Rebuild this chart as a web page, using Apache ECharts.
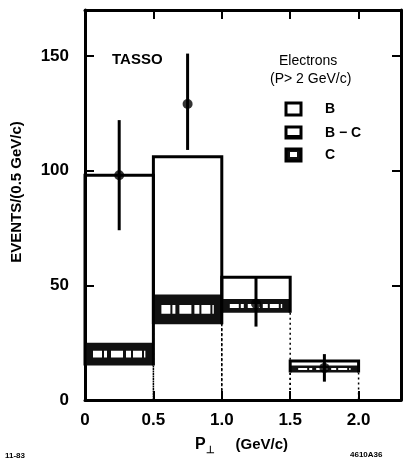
<!DOCTYPE html>
<html><head><meta charset="utf-8">
<script src="https://cdn.jsdelivr.net/npm/echarts@6/dist/echarts.min.js"></script>
<style>html,body{margin:0;padding:0;background:#fff}#c{width:405px;height:465px}</style>
</head><body><div id="c"></div>
<script>
// ---- data ----
const binLow  = [0, 0.5, 1.0, 1.5];
const binHigh = [0.5, 1.0, 1.5, 2.0];
const totalB  = [98, 106, 53.5, 17];   // B (open histogram)
const bcTop   = [25, 46, 44, 15];      // top of B - C band
const cTop    = [15, 33, 38, 12];      // C (bottom)
const ptX     = [0.25, 0.75, 1.25, 1.75];
const ptY     = [98, 129, 42, 14];
const errLo   = [74, 109, 32, 8];
const errHi   = [122, 151, 54, 20];
const xTicks  = ['0', '0.5', '1.0', '1.5', '2.0'];
const yTicks  = ['0', '50', '100', '150'];

const FONT = '"Liberation Sans", Arial, sans-serif';
const chart = echarts.init(document.getElementById('c'), null, {renderer: 'canvas'});

const histData = binLow.map((l, i) => [l, binHigh[i], cTop[i], bcTop[i], totalB[i]]);
const errData = ptX.map((x, i) => [x, errLo[i], errHi[i]]);
const ptData = ptX.map((x, i) => [x, ptY[i]]);

function xLab(v) {
  const i = Math.round(v / 0.5);
  return (Math.abs(v - i * 0.5) < 1e-6 && i < xTicks.length) ? xTicks[i] : '';
}
function yLab(v) {
  const i = Math.round(v / 50);
  return (Math.abs(v - i * 50) < 1e-6 && i < yTicks.length) ? yTicks[i] : '';
}

function axisCommon() {
  return {
    axisLine: {show: true, onZero: false, lineStyle: {color: '#000', width: 3}},
    axisTick: {show: true, inside: true, length: 9, lineStyle: {color: '#000', width: 2}},
    splitLine: {show: false}
  };
}

chart.setOption({
  animation: false,
  backgroundColor: '#fff',
  grid: {left: 85, right: 4, top: 10, bottom: 65, containLabel: false},
  xAxis: [
    Object.assign({type: 'value', min: 0, max: 2.31, interval: 0.5, position: 'bottom',
      axisLabel: {show: true, margin: 12, color: '#000', fontSize: 17, fontWeight: 'bold', fontFamily: FONT,
        formatter: xLab, showMaxLabel: false}}, axisCommon()),
    Object.assign({type: 'value', min: 0, max: 2.31, interval: 0.5, position: 'top',
      axisLabel: {show: false}}, axisCommon())
  ],
  yAxis: [
    Object.assign({type: 'value', min: 0, max: 170, interval: 50, position: 'left',
      axisLabel: {show: true, margin: 16, color: '#000', fontSize: 17, fontWeight: 'bold', fontFamily: FONT,
        formatter: yLab, showMaxLabel: false}}, axisCommon()),
    Object.assign({type: 'value', min: 0, max: 170, interval: 50, position: 'right',
      axisLabel: {show: false}}, axisCommon())
  ],
  series: [
    {
      type: 'custom',
      data: histData,
      encode: {x: [0, 1], y: [2, 3, 4]},
      renderItem: function (params, api) {
        const x0 = api.value(0), x1 = api.value(1), c = api.value(2), bc = api.value(3), t = api.value(4);
        const p = (x, y) => api.coord([x, y]);
        const bandTop = p(x0, bc), bandBot = p(x1, c);
        const h = bandBot[1] - bandTop[1];
        const midY = (bandTop[1] + bandBot[1]) / 2;
        const children = [
          {type: 'rect', shape: {x: bandTop[0], y: bandTop[1], width: bandBot[0] - bandTop[0], height: h},
            style: {fill: '#111'}},
          {type: 'line', shape: {x1: bandTop[0] + 8, y1: midY, x2: bandBot[0] - 8, y2: midY},
            style: {stroke: '#fff', lineWidth: Math.max(1, h * 0.3), lineDash: [9, 2, 3, 4, 12, 3, 5, 2]}},
          {type: 'polyline', shape: {points: [p(x0, 0), p(x0, c)]},
            style: {stroke: '#000', lineWidth: 1.5, lineDash: [2, 3], fill: null}},
          {type: 'polyline', shape: {points: [p(x1, c), p(x1, 0)]},
            style: {stroke: '#000', lineWidth: 1.5, lineDash: [2, 3], fill: null}},
          {type: 'polyline', shape: {points: [p(x0, c), p(x0, t), p(x1, t), p(x1, c)]},
            style: {stroke: '#000', lineWidth: 3, fill: null}}
        ];
        return {type: 'group', children: children};
      },
      z: 2
    },
    {
      type: 'custom',
      data: errData,
      encode: {x: 0, y: [1, 2]},
      renderItem: function (params, api) {
        const a = api.coord([api.value(0), api.value(1)]);
        const b = api.coord([api.value(0), api.value(2)]);
        return {type: 'line', shape: {x1: a[0], y1: a[1], x2: b[0], y2: b[1]},
          style: {stroke: '#000', lineWidth: 3}};
      },
      z: 3
    },
    {
      type: 'scatter',
      data: ptData,
      symbol: 'circle',
      symbolSize: 10,
      itemStyle: {color: '#000'},
      z: 4
    }
  ],
  graphic: [
    {type: 'text', left: 112, top: 52, style: {text: 'TASSO', font: 'bold 15px ' + FONT, fill: '#000'}},
    {type: 'text', left: 279, top: 54, style: {text: 'Electrons', font: '14px ' + FONT, fill: '#000'}},
    {type: 'text', left: 270, top: 72, style: {text: '(P> 2 GeV/c)', font: '14px ' + FONT, fill: '#000'}},
    // legend symbols
    {type: 'rect', shape: {x: 286, y: 103, width: 15, height: 12}, style: {fill: '#fff', stroke: '#000', lineWidth: 3}},
    {type: 'rect', shape: {x: 286, y: 127, width: 15, height: 11}, style: {fill: '#fff', stroke: '#000', lineWidth: 3}},
    {type: 'rect', shape: {x: 286, y: 135, width: 15, height: 3}, style: {fill: '#000'}},
    {type: 'rect', shape: {x: 286, y: 149, width: 15, height: 12}, style: {fill: '#111', stroke: '#000', lineWidth: 3}},
    {type: 'rect', shape: {x: 290, y: 152, width: 7, height: 5}, style: {fill: '#fff'}},
    {type: 'text', left: 325, top: 102, style: {text: 'B', font: 'bold 14px ' + FONT, fill: '#000'}},
    {type: 'text', left: 325, top: 126, style: {text: 'B \u2212 C', font: 'bold 14px ' + FONT, fill: '#000'}},
    {type: 'text', left: 325, top: 148, style: {text: 'C', font: 'bold 14px ' + FONT, fill: '#000'}},
    // axis titles
    {type: 'text', x: 17, y: 192, rotation: Math.PI / 2,
      style: {text: 'EVENTS/(0.5 GeV/c)', font: 'bold 15px ' + FONT, fill: '#000', align: 'center', verticalAlign: 'middle'}},
    {type: 'text', left: 195, top: 437,
      style: {text: '{p|P}{s|\u22a5}{g|     (GeV/c)}',
        rich: {p: {font: 'bold 16px ' + FONT, fill: '#000'},
               s: {font: 'bold 10px ' + FONT, fill: '#000', padding: [10, 0, 0, 0]},
               g: {font: 'bold 15px ' + FONT, fill: '#000'}}}},
    {type: 'text', left: 5, top: 452, style: {text: '11-83', font: 'bold 8px ' + FONT, fill: '#000'}},
    {type: 'text', left: 350, top: 451, style: {text: '4610A36', font: 'bold 8px ' + FONT, fill: '#000'}}
  ]
});
</script>
</body></html>
